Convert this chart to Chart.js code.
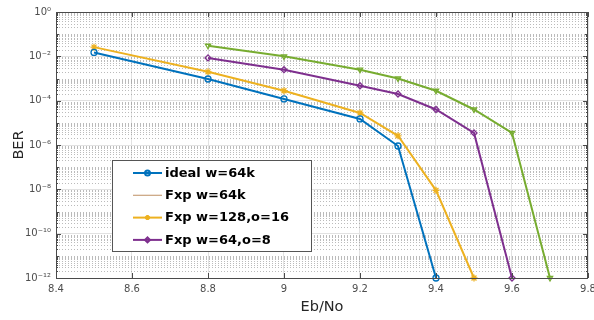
<!DOCTYPE html>
<html>
<head>
<meta charset="utf-8">
<script src="https://cdn.jsdelivr.net/npm/chart.js@4"></script>
<style>
  html, body { margin: 0; padding: 0; background: #fff; }
  #wrap { width: 594px; height: 320px; }
</style>
</head>
<body>
<div id="wrap"><canvas id="chart" width="594" height="320"></canvas></div>
<script>
// Data
var idealX = [8.5, 8.8, 9.0, 9.2, 9.3, 9.4];
var idealBer = [1.5e-2, 9.5e-4, 1.2e-4, 1.5e-5, 9e-7, 1e-12];

var fxp128X = [8.5, 8.8, 9.0, 9.2, 9.3, 9.4, 9.5];
var fxp128Ber = [2.6e-2, 2e-3, 2.8e-4, 2.8e-5, 2.6e-6, 9e-9, 1e-12];

var fxp64o8X = [8.8, 9.0, 9.2, 9.3, 9.4, 9.5, 9.6];
var fxp64o8Ber = [8.5e-3, 2.5e-3, 4.7e-4, 2e-4, 4e-5, 3.5e-6, 1e-12];

// green curve (no legend entry in the original)
var fxp64kX = [8.8, 9.0, 9.2, 9.3, 9.4, 9.5, 9.6, 9.7];
var fxp64kBer = [3e-2, 1e-2, 2.5e-3, 1e-3, 2.8e-4, 4e-5, 3.5e-6, 1e-12];

var xTicks = [8.4, 8.6, 8.8, 9.0, 9.2, 9.4, 9.6, 9.8];
var yExps = [0, -2, -4, -6, -8, -10, -12];

function pts(xs, ys) {
  return xs.map(function (x, i) { return { x: x, y: ys[i] }; });
}

var sup = { '0': '⁰', '1': '¹', '2': '²', '3': '³', '4': '⁴', '5': '⁵', '6': '⁶', '7': '⁷', '8': '⁸', '9': '⁹', '-': '⁻' };
function supText(n) {
  return String(n).split('').map(function (c) { return sup[c]; }).join('');
}

var FONT = 'DejaVu Sans';

// minor grid, box and inward ticks (MATLAB style)
var axesBox = {
  id: 'axesBox',
  beforeDatasetsDraw: function (chart) {
    var ctx = chart.ctx, a = chart.chartArea, y = chart.scales.y;
    ctx.save();
    ctx.strokeStyle = 'rgba(120,120,120,0.5)';
    ctx.lineWidth = 1;
    ctx.setLineDash([1, 2]);
    for (var e = -12; e < 0; e++) {
      for (var m = 2; m <= 9; m++) {
        var py = Math.round(y.getPixelForValue(m * Math.pow(10, e))) + 0.5;
        ctx.beginPath(); ctx.moveTo(a.left, py); ctx.lineTo(a.right, py); ctx.stroke();
      }
      if (e % 2 !== 0) {
        var py2 = Math.round(y.getPixelForValue(Math.pow(10, e))) + 0.5;
        ctx.beginPath(); ctx.moveTo(a.left, py2); ctx.lineTo(a.right, py2); ctx.stroke();
      }
    }
    ctx.restore();
  },
  afterDraw: function (chart) {
    var ctx = chart.ctx, a = chart.chartArea, x = chart.scales.x, y = chart.scales.y;
    ctx.save();
    ctx.strokeStyle = '#4a4a4a';
    ctx.lineWidth = 1;
    ctx.strokeRect(a.left + 0.5, a.top + 0.5, a.right - a.left - 1, a.bottom - a.top);
    ctx.beginPath();
    xTicks.forEach(function (v) {
      var px = Math.round(x.getPixelForValue(v)) + 0.5;
      ctx.moveTo(px, a.bottom); ctx.lineTo(px, a.bottom - 5);
      ctx.moveTo(px, a.top); ctx.lineTo(px, a.top + 5);
    });
    for (var e = -12; e <= 0; e++) {
      for (var m = 1; m <= 9; m++) {
        if (e === 0 && m > 1) break;
        var len = m === 1 ? (e % 2 === 0 ? 5 : 3) : 2;
        var py = Math.round(y.getPixelForValue(m * Math.pow(10, e))) + 0.5;
        ctx.moveTo(a.left, py); ctx.lineTo(a.left + len, py);
        ctx.moveTo(a.right, py); ctx.lineTo(a.right - len, py);
      }
    }
    ctx.stroke();
    ctx.restore();
  }
};

// legend box drawn inside the axes
var boxLegend = {
  id: 'boxLegend',
  afterDraw: function (chart) {
    var ctx = chart.ctx;
    var items = chart.data.datasets.filter(function (d) { return d.label; });
    var bx = 112, by = 160, bw = 199, bh = 91;
    ctx.save();
    ctx.fillStyle = '#fff';
    ctx.fillRect(bx, by, bw, bh);
    ctx.strokeStyle = '#555';
    ctx.lineWidth = 1;
    ctx.strokeRect(bx + 0.5, by + 0.5, bw, bh);
    ctx.font = 'bold 13px "' + FONT + '"';
    ctx.textBaseline = 'middle';
    ctx.fillStyle = '#000';
    items.forEach(function (d, i) {
      var cy = by + 13 + i * 22.3;
      ctx.strokeStyle = d.borderColor;
      ctx.lineWidth = d.borderWidth;
      ctx.beginPath(); ctx.moveTo(133, cy); ctx.lineTo(162, cy); ctx.stroke();
      if (d.pointRadius > 0) {
        ctx.fillStyle = 'rgba(255,255,255,0)';
        Chart.helpers.drawPoint(ctx, {
          pointStyle: d.pointStyle, radius: 2.5, rotation: d.pointRotation || 0,
          borderWidth: 1.3
        }, 147.5, cy);
      }
      ctx.fillStyle = '#000';
      ctx.fillText(d.label, 165, cy + 0.5);
    });
    ctx.restore();
  }
};

var common = { borderWidth: 2, pointRadius: 3, pointBorderWidth: 1.3, pointBackgroundColor: 'rgba(255,255,255,0)', fill: false, tension: 0 };

new Chart(document.getElementById('chart'), {
  type: 'line',
  data: {
    datasets: [
      Object.assign({}, common, { label: 'ideal w=64k', data: pts(idealX, idealBer), borderColor: '#0072BD', pointBorderColor: '#0072BD', pointStyle: 'circle' }),
      Object.assign({}, common, { label: 'Fxp w=64k', data: [], borderColor: '#C9A27C', borderWidth: 1.2, pointRadius: 0 }),
      Object.assign({}, common, { label: 'Fxp w=128,o=16', data: pts(fxp128X, fxp128Ber), borderColor: '#EDB120', pointBorderColor: '#EDB120', pointStyle: 'star', pointRadius: 3.5 }),
      Object.assign({}, common, { label: 'Fxp w=64,o=8', data: pts(fxp64o8X, fxp64o8Ber), borderColor: '#7E2F8E', pointBorderColor: '#7E2F8E', pointStyle: 'rectRot' }),
      Object.assign({}, common, { label: '', data: pts(fxp64kX, fxp64kBer), borderColor: '#77AC30', pointBorderColor: '#77AC30', pointStyle: 'triangle', pointRotation: 180 })
    ]
  },
  options: {
    responsive: false,
    animation: false,
    clip: false,
    layout: { padding: { left: 0, right: 6, top: 12, bottom: 0 } },
    plugins: { legend: { display: false }, tooltip: { enabled: false } },
    scales: {
      x: {
        type: 'linear', min: 8.4, max: 9.8,
        afterBuildTicks: function (s) { s.ticks = xTicks.map(function (v) { return { value: v }; }); },
        afterFit: function (s) { s.height = 42; s.paddingRight = 0; s.paddingLeft = 0; },
        grid: { color: '#e2e2e2', drawTicks: false },
        border: { display: false },
        ticks: {
          padding: 5, color: '#4d4d4d', font: { family: FONT, size: 10 },
          callback: function (v) { return String(Number(v.toFixed(1))); }
        },
        title: { display: true, text: 'Eb/No', color: '#262626', font: { family: FONT, size: 14.5 }, padding: { top: 6 } }
      },
      y: {
        type: 'logarithmic', min: 1e-12, max: 1,
        afterBuildTicks: function (s) { s.ticks = yExps.map(function (e) { return { value: Math.pow(10, e) }; }); },
        afterFit: function (s) { s.width = 56; s.paddingTop = 0; s.paddingBottom = 0; },
        grid: { color: '#e2e2e2', drawTicks: false },
        border: { display: false },
        ticks: {
          padding: 5, color: '#4d4d4d', font: { family: FONT, size: 10 },
          callback: function (v) { return '10' + supText(Math.round(Math.log10(v))); }
        },
        title: { display: true, text: 'BER', color: '#262626', font: { family: FONT, size: 14.5 }, padding: { top: 11, bottom: 0 } }
      }
    }
  },
  plugins: [axesBox, boxLegend]
});
</script>
</body>
</html>
